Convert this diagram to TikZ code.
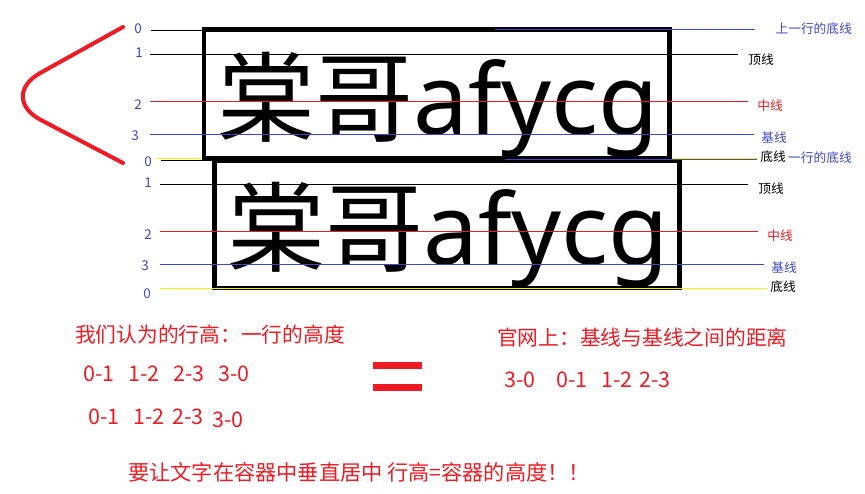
\documentclass[tikz,border=0pt]{standalone}
\usepackage{fontspec}
\setmainfont{Noto Sans}
\newfontfamily\cjk{Noto Sans CJK SC}
\newfontfamily\lat{Noto Sans}
\definecolor{myred}{HTML}{ED1C24}
\definecolor{myblue}{HTML}{3F48CC}
\definecolor{myyellow}{HTML}{FFF200}
\begin{document}
\begin{tikzpicture}[x=1pt,y=-1pt,
  num/.style={text=myblue, font=\cjk\fontsize{13.5}{14}\selectfont, inner sep=0},
  lab/.style={font=\cjk\fontsize{12.7}{13}\selectfont, inner sep=0},
  big/.style={font=\fontsize{98}{98}\selectfont, inner sep=0, anchor=base west},
  rtext/.style={text=myred, font=\cjk\fontsize{20.75}{21}\selectfont, inner sep=0, anchor=west},
  rnum/.style={text=myred, font=\cjk\fontsize{21.5}{22}\selectfont, inner sep=0, anchor=west},
  guide/.style={line width=1pt},
  frame/.style={draw=black, line width=4.5pt}]
\useasboundingbox[fill=white] (0,0) rectangle (865,493);

% red bracket
\draw[myred, line width=4pt, line cap=round, rounded corners=50pt] (123,27) -- (-3,97) -- (123,163);

% row boundary drawn under the boxes
\draw[guide, myyellow] (157,158) -- (757,158);
\draw[guide, black] (161,160) -- (214,160);

% boxes
\draw[frame] (204,29.5) rectangle (669.5,158);
\draw[frame] (214.5,161) rectangle (679.5,288);

% big texts
\node[big] (t1) at (217,134) {{\cjk 棠哥}{\lat afycg}};
\node[big] (t2) at (227,264) {{\cjk 棠哥}{\lat afycg}};

% guide lines, row 1
\draw[guide, black] (151,30) -- (210,30);
\draw[guide, myblue] (495,29) -- (755,29);
\draw[guide, black] (150,54) -- (738,54);
\draw[guide, myred] (150,101) -- (748,101);
\draw[guide, myblue] (150,134) -- (754,134);
\draw[guide, myyellow] (672,158) -- (757,158);
\draw[guide, myblue] (505,159.5) -- (757,159.5);
% guide lines, row 2
\draw[guide, black] (160,184) -- (748,184);
\draw[guide, myred] (160,231) -- (758,231);
\draw[guide, myblue] (160,264) -- (764,264);
\draw[guide, myyellow] (160,288) -- (767,288);

% numbers
\node[num] (n10) at (138,29) {0};
\node[num] (n11) at (139,53) {1};
\node[num] (n12) at (138,105) {2};
\node[num] (n13) at (135,136) {3};
\node[num] (n20) at (148,162) {0};
\node[num] (n21) at (148,183) {1};
\node[num] (n22) at (148,235) {2};
\node[num] (n23) at (145,266) {3};
\node[num] (n24) at (147,294) {0};

% right labels
\node[lab, text=myblue, anchor=east] (l10) at (852,29) {上一行的底线};
\node[lab, text=black] (l11) at (761,60) {顶线};
\node[lab, text=myred] (l12) at (770,106) {中线};
\node[lab, text=myblue] (l13) at (774,138) {基线};
\node[lab, text=black] (l14) at (773,157) {底线};
\node[lab, text=myblue, anchor=west] (l14b) at (788,157.5) {一行的底线};
\node[lab, text=black] (l21) at (771,189) {顶线};
\node[lab, text=myred] (l22) at (780,236) {中线};
\node[lab, text=myblue] (l23) at (784,268) {基线};
\node[lab, text=black] (l24) at (783,287) {底线};

% bottom texts
\node[rtext] (h1) at (75,335) {我们认为的行高：一行的高度};
\node[rtext] (h2) at (497,338) {官网上：基线与基线之间的距离};
\node[rnum] (a1) at (83,374) {0-1};
\node[rnum] (a2) at (128,374) {1-2};
\node[rnum] (a3) at (173,374) {2-3};
\node[rnum] (a4) at (218,374) {3-0};
\node[rnum] (b1) at (88,417) {0-1};
\node[rnum] (b2) at (133,417) {1-2};
\node[rnum] (b3) at (172,417) {2-3};
\node[rnum] (b4) at (212,420) {3-0};
\node[rnum] (c1) at (504,380) {3-0};
\node[rnum] (c2) at (556,380) {0-1};
\node[rnum] (c3) at (601,380) {1-2};
\node[rnum] (c4) at (639,380) {2-3};
\fill[myred] (373,362) rectangle (422,369);
\fill[myred] (373,384) rectangle (422,391);
\node[rtext, font=\cjk\fontsize{21.2}{22}\selectfont] (f) at (128,472) {要让文字在容器中垂直居中 行高=容器的高度！！};
\end{tikzpicture}
\end{document}
